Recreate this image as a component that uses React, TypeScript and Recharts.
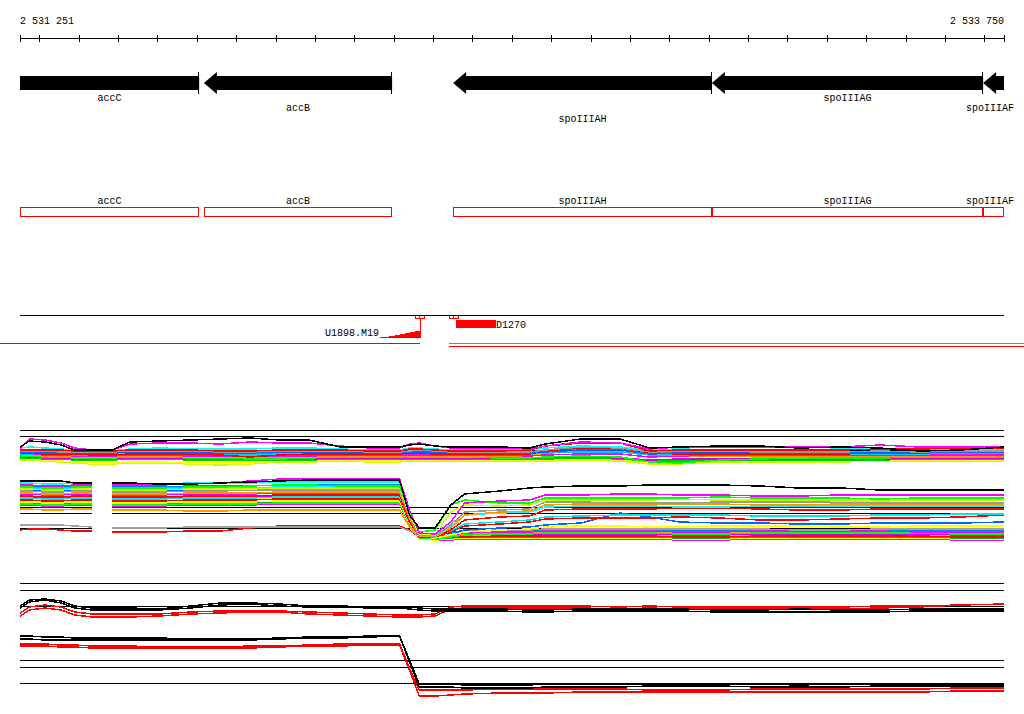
import React from 'react';
import { ComposedChart, Line, Area, XAxis, YAxis, ReferenceLine, ReferenceArea } from 'recharts';

// genome window shown (bp)
const WINDOW: [number, number] = [2531251, 2533750];
const W = 1024;
const PLOT_LEFT = 20;
const PLOT_RIGHT = 1004;
const FONT = '"Liberation Mono", "DejaVu Sans Mono", monospace';
const CHAR_W = 6;

const rulerTicks = [
  2531251, 2531300, 2531400, 2531500, 2531600, 2531700, 2531800, 2531900, 2532000,
  2532100, 2532200, 2532300, 2532400, 2532500, 2532600, 2532700, 2532800, 2532900,
  2533000, 2533100, 2533200, 2533300, 2533400, 2533500, 2533600, 2533700, 2533750,
];

// annotated genes (all on the minus strand)
const geneNames = ['accC', 'accB', 'spoIIIAH', 'spoIIIAG', 'spoIIIAF'];
const geneStarts = [2531100, 2531718, 2532351, 2533008, 2533697];
const geneEnds = [2531706, 2532196, 2533008, 2533697, 2533900];

// transcription units / probes
const tuRamp = [
  { pos: 2532165, h: 1 }, { pos: 2532188, h: 2 }, { pos: 2532203, h: 3 }, { pos: 2532216, h: 4 },
  { pos: 2532229, h: 5 }, { pos: 2532241, h: 6 }, { pos: 2532254, h: 7 }, { pos: 2532267, h: 7 },
];
const tuRampName = 'U1898.M19';
const tuBlockName = 'D1270';
const tuBlock = [2532358, 2532460];
const probeMarkers = [[2532254, 2532265, 2532277], [2532341, 2532351, 2532363]];
const leftUnit = [2531200, 2532267];
const rightUnit = [2532341, 2533801];

// probe positions of the tiling signal
const probePos = [
  2531251, 2531275, 2531315, 2531355, 2531390, 2531435, 2531455, 2531485, 2531530, 2531605,
  2531685, 2531760, 2531835, 2531910, 2531985, 2532065, 2532140, 2532215, 2532240, 2532265,
  2532305, 2532345, 2532380, 2532470, 2532545, 2532585, 2532675, 2532775, 2532850, 2532925,
  2533030, 2533130, 2533230, 2533335, 2533435, 2533535, 2533640, 2533750,
];
const lowerGap = [2531435, 2531485];

// panel 1, upper strand (signal, a.u.)
const upBlack = [98,104,103,100,95,95,95,95,103,104, 105,106,107,105,105,98,98,98,100,101, 99,98,98,98,97,101,106,106,97,98, 99,99,97,98,97,94,95,98];
const upMagenta = [96,106,105,102,97,95,95,95,101,102, 102,101,103,102,102,99,97,97,101,102, 99,97,97,97,96,99,103,102,96,98, 98,98,98,98,100,98,98,98];
const upCyan = [97,98,97,96,95,95,95,94,96,97, 96,96,96,97,97,96,95,95,97,97, 96,95,95,95,95,97,99,98,95,96, 95,95,95,96,96,95,96,96];
const upGray = [94,94,94,93,93,93,93,93,94,94, 94,93,93,94,94,94,93,93,94,95, 94,93,93,93,93,95,98,97,93,94, 94,93,93,93,94,93,94,94];
const upBlue = [93,93,92,92,92,92,92,92,93,93, 92,92,92,93,93,93,92,92,93,93, 93,92,92,92,92,93,95,95,91,92, 93,92,92,92,92,92,93,93];
const upRed = [92,92,91,91,91,90,90,90,91,91, 91,90,88,90,91,91,91,91,92,92, 91,91,91,91,91,94,97,97,92,91, 91,91,91,91,92,92,93,93];
const upMagenta2 = [91,91,90,90,89,89,89,89,90,90, 89,89,89,89,89,90,90,90,90,90, 90,90,90,90,89,90,91,91,88,89, 90,90,90,90,90,90,90,90];
const upOrange = [90,90,89,89,88,88,88,88,89,89, 88,88,88,88,88,89,89,89,89,89, 89,88,88,89,89,92,95,94,90,89, 89,88,88,89,89,89,89,89];
const upLime = [89,89,88,88,87,87,87,87,88,88, 87,87,86,86,87,88,88,88,88,88, 88,88,88,87,87,88,89,88,83,82, 85,86,87,87,87,88,88,88];
const upPurple = [88,88,87,87,86,86,86,86,87,87, 86,86,86,86,86,87,87,87,87,87, 87,87,87,87,87,88,88,87,85,86, 86,86,86,86,86,87,87,87];
const upGreen = [87,87,86,86,85,85,85,85,86,86, 85,85,85,85,85,86,86,86,86,86, 86,86,86,86,86,86,87,86,84,84, 85,85,85,85,85,86,86,86];
const upYellow = [86,86,85,84,83,82,82,82,83,83, 82,82,82,84,84,85,84,84,85,85, 85,85,85,85,85,85,86,85,82,83, 84,84,84,84,84,85,85,85];
const upCyan2 = [90,91,92,91,90,90,90,90,92,92, 91,90,90,91,92,92,91,91,93,93, 92,91,91,91,91,92,93,93,90,90, 91,91,91,91,91,91,92,92];
const upYellowGreen = [85,85,84,83,82,81,81,81,82,82, 81,80,81,83,83,84,83,83,84,84, 84,84,84,84,84,84,85,84,81,81, 83,83,83,83,84,84,84,84];
const upRed2 = [95,95,95,95,94,94,94,94,95,95, 95,94,94,95,95,95,94,94,96,96, 95,94,94,94,95,99,102,102,94,95, 95,95,95,95,96,96,97,97];
const upGray2 = [91,91,91,91,91,91,91,91,92,92, 92,92,92,92,92,92,92,92,92,92, 92,92,92,92,92,93,96,96,92,92, 92,92,92,92,92,92,92,92];

// panel 1, lower strand
const dnBlack = [64,64,64,64,62,62,null,62,62,61, 61,62,63,64,65,65,65,65,30,17, 17,40,51,54,57,58,59,59,60,60, 60,59,57,57,55,55,55,55];
const dnMagenta = [60,60,59,59,60,60,null,60,60,60, 61,62,64,66,66,66,66,66,35,12, 11,23,42,44,45,50,50,51,51,50, 50,49,49,50,50,50,50,50];
const dnLime = [58,58,57,57,58,58,null,57,57,57, 58,58,59,60,60,59,59,59,33,13, 15,40,45,42,42,47,47,47,47,47, 48,47,47,47,46,47,47,47];
const dnYellowGreen = [56,56,55,55,56,56,null,55,55,55, 56,56,56,57,57,57,57,57,31,11, 10,33,40,39,40,45,45,45,45,46, 45,45,45,44,44,45,45,45];
const dnGray = [54,54,53,53,54,54,null,53,53,53, 54,54,55,55,55,55,55,55,29,10, 9,20,33,35,36,43,43,42,42,42, 43,43,43,43,42,42,42,42];
const dnOrange = [52,52,51,51,52,52,null,51,51,51, 52,52,52,53,53,53,53,53,27,9, 8,17,30,33,34,40,41,41,40,41, 41,40,40,41,41,41,41,41];
const dnCyan = [62,62,61,61,62,62,null,61,61,61, 62,62,62,63,63,63,63,63,33,12, 11,18,30,32,33,38,39,39,39,38, 38,39,39,39,39,39,39,39];
const dnRed = [49,49,48,48,49,49,null,48,48,48, 49,49,49,50,50,50,50,50,25,8, 8,15,25,28,29,35,36,36,36,37, 37,36,35,35,36,36,36,36];
const dnCyan2 = [47,47,46,46,47,47,null,46,46,46, 47,47,47,48,48,48,48,48,25,10, 9,14,21,23,25,28,29,30,30,30, 30,29,29,29,30,30,31,31];
const dnRed2 = [45,45,44,44,45,45,null,44,44,44, 45,45,45,46,46,46,46,46,23,9, 8,13,19,21,23,26,27,27,27,28, 27,25,25,26,27,27,28,30];
const dnBlue = [55,55,54,54,55,55,null,54,54,54, 55,55,55,56,56,56,56,56,30,11, 10,12,15,17,18,20,22,32,28,23, 22,22,21,21,22,22,22,23];
const dnYellow = [43,43,42,42,43,43,null,42,42,42, 43,43,43,44,44,44,44,44,22,8, 7,10,13,15,16,18,19,19,18,18, 19,19,19,18,18,19,19,19];
const dnGray2 = [20,20,20,20,19,18,null,17,17,17, 18,18,18,18,18,18,18,18,14,10, 11,13,14,15,15,16,16,16,16,16, 16,16,15,15,16,16,16,16];
const dnMagenta2 = [51,51,50,50,51,51,null,50,50,50, 51,51,51,52,52,52,52,52,27,9, 8,10,12,13,13,14,14,14,14,13, 13,14,14,14,14,13,13,13];
const dnLime2 = [41,41,40,40,41,41,null,40,40,40, 41,41,41,42,42,42,42,42,21,7, 6,8,10,11,11,12,12,12,12,11, 11,12,12,12,12,12,11,11];
const dnBlue2 = [59,59,58,58,59,59,null,58,58,58, 59,59,59,60,60,60,60,60,32,11, 10,12,14,15,15,15,15,15,15,14, 14,15,15,15,15,15,14,14];
const dnOrange2 = [36,36,35,35,36,36,null,35,35,35, 34,34,35,35,35,35,35,35,18,7, 7,9,11,12,12,13,13,13,13,12, 12,13,13,13,13,12,12,12];
const dnPurple = [48,48,47,47,48,48,null,47,47,47, 48,48,48,49,49,49,49,49,24,9, 8,9,10,11,11,11,11,11,11,10, 10,11,11,11,11,11,10,10];
const dnRed3 = [15,16,16,15,14,14,null,13,13,13, 14,14,17,19,19,19,19,19,15,8, 7,8,8,9,9,9,9,9,9,8, 8,9,9,9,9,9,8,8];
const dnCyan3 = [57,57,56,56,57,57,null,56,56,56, 57,57,57,58,58,58,58,58,29,10, 9,10,10,10,10,10,10,10,10,9, 9,10,10,10,10,10,9,9];
const dnGreen = [42,42,41,41,42,42,null,41,41,41, 42,42,42,43,43,43,43,43,21,7, 6,7,8,8,8,8,8,8,8,7, 7,8,8,8,8,8,7,7];
const dnYellow2 = [46,46,45,45,46,46,null,45,45,45, 46,46,46,47,47,47,47,47,24,6, 5,6,7,7,7,7,7,7,7,6, 6,7,7,7,7,7,6,6];
const dnMagenta3 = [40,40,39,39,40,40,null,39,39,39, 40,40,40,41,41,41,41,41,20,6, 5,5,6,6,6,6,6,6,6,5, 5,6,6,6,6,6,5,5];

// panel 2, averaged signal
const avgUpBlackA = [94,100,101,99,94,92,92,92,92,91, 94,97,97,96,94,94,93,93,93,92, 91,91,91,91,90,90,91,91,91,91, 90,90,91,90,90,91,91,91];
const avgUpBlackB = [92,98,100,97,92,90,90,90,90,90, 92,95,96,94,93,93,92,92,91,90, 89,89,89,89,88,88,89,89,89,89, 88,88,88,88,88,89,89,89];
const avgUpRedA = [87,93,95,93,88,86,86,86,86,86, 88,89,89,89,88,87,86,85,85,85, 86,93,94,94,94,94,94,93,94,93, 93,93,93,93,94,94,95,96];
const avgUpRedB = [84,90,92,90,85,83,83,83,83,84, 86,87,88,88,86,85,84,83,83,83, 84,91,92,92,92,92,92,91,92,91, 92,92,91,91,92,93,95,96];
const avgDnBlackA = [64,64,63,63,62,62,62,62,62,62, 61,61,61,62,63,63,64,64,40,16, 16,16,15,15,15,16,16,16,16,16, 16,16,15,16,16,16,16,16];
const avgDnBlackB = [61,61,60,60,60,60,60,60,60,60, 60,60,60,61,62,62,63,64,38,13, 13,13,12,12,12,13,13,13,14,14, 14,13,13,13,14,14,14,14];
const avgDnRedA = [56,56,56,55,55,54,54,54,54,53, 53,53,54,54,55,56,56,56,32,10, 10,10,10,11,11,11,11,11,10,10, 10,11,11,11,11,11,12,12];
const avgDnRedB = [54,54,54,53,53,52,52,52,52,52, 52,52,52,53,54,54,55,55,30,4, 4,5,6,7,7,7,8,8,8,8, 8,8,8,8,8,8,9,9];

// reference levels
const panel1Refs = [115, 109, 95];
const panel1LowerRefs = [38, 32, 17];
const panel2Refs = [117, 110, 94, 40, 33, 17];

type Series = { key: string; color: string; values: (number | null)[] };

const panel1Series: Series[] = [
  { key: 'upGray2', color: '#808080', values: upGray2 },
  { key: 'upYellowGreen', color: '#ccff00', values: upYellowGreen },
  { key: 'upYellow', color: '#ffff00', values: upYellow },
  { key: 'upGreen', color: '#00cc00', values: upGreen },
  { key: 'upPurple', color: '#cc00ff', values: upPurple },
  { key: 'upLime', color: '#00ff00', values: upLime },
  { key: 'upOrange', color: '#ff9900', values: upOrange },
  { key: 'upMagenta2', color: '#ff00ff', values: upMagenta2 },
  { key: 'upCyan2', color: '#00ccff', values: upCyan2 },
  { key: 'upRed', color: '#ff0000', values: upRed },
  { key: 'upBlue', color: '#0066ff', values: upBlue },
  { key: 'upGray', color: '#999999', values: upGray },
  { key: 'upCyan', color: '#00ffff', values: upCyan },
  { key: 'upRed2', color: '#ff0000', values: upRed2 },
  { key: 'upMagenta', color: '#ff00ff', values: upMagenta },
  { key: 'upBlack', color: '#000000', values: upBlack },
  { key: 'dnMagenta3', color: '#ff00ff', values: dnMagenta3 },
  { key: 'dnYellow2', color: '#ffff00', values: dnYellow2 },
  { key: 'dnGreen', color: '#00c000', values: dnGreen },
  { key: 'dnCyan3', color: '#00ffff', values: dnCyan3 },
  { key: 'dnRed3', color: '#ff0000', values: dnRed3 },
  { key: 'dnPurple', color: '#cc00ff', values: dnPurple },
  { key: 'dnOrange2', color: '#ff9900', values: dnOrange2 },
  { key: 'dnBlue2', color: '#0080ff', values: dnBlue2 },
  { key: 'dnLime2', color: '#00ff00', values: dnLime2 },
  { key: 'dnMagenta2', color: '#ff00ff', values: dnMagenta2 },
  { key: 'dnGray2', color: '#a0a0a0', values: dnGray2 },
  { key: 'dnYellow', color: '#ffff00', values: dnYellow },
  { key: 'dnBlue', color: '#0066ff', values: dnBlue },
  { key: 'dnRed2', color: '#ff0000', values: dnRed2 },
  { key: 'dnCyan2', color: '#00e8e8', values: dnCyan2 },
  { key: 'dnRed', color: '#ff0000', values: dnRed },
  { key: 'dnCyan', color: '#00ffff', values: dnCyan },
  { key: 'dnOrange', color: '#ff9900', values: dnOrange },
  { key: 'dnGray', color: '#999999', values: dnGray },
  { key: 'dnYellowGreen', color: '#ccff00', values: dnYellowGreen },
  { key: 'dnLime', color: '#00ff00', values: dnLime },
  { key: 'dnMagenta', color: '#ff00ff', values: dnMagenta },
  { key: 'dnBlack', color: '#000000', values: dnBlack },
];

const panel2Series: Series[] = [
  { key: 'avgUpRedA', color: '#ff0000', values: avgUpRedA },
  { key: 'avgUpRedB', color: '#ff0000', values: avgUpRedB },
  { key: 'avgUpBlackA', color: '#000000', values: avgUpBlackA },
  { key: 'avgUpBlackB', color: '#000000', values: avgUpBlackB },
  { key: 'avgDnRedA', color: '#ff0000', values: avgDnRedA },
  { key: 'avgDnRedB', color: '#ff0000', values: avgDnRedB },
  { key: 'avgDnBlackA', color: '#000000', values: avgDnBlackA },
  { key: 'avgDnBlackB', color: '#000000', values: avgDnBlackB },
];

const toRows = (series: Series[]) =>
  probePos.map((pos, i) => {
    const row: Record<string, number | null> = { pos };
    series.forEach((s) => {
      row[s.key] = s.values[i];
    });
    return row;
  });

const panel1Rows = toRows(panel1Series);
const panel2Rows = toRows(panel2Series);

const formatBp = (v: number) => String(v).replace(/\B(?=(\d{3})+(?!\d))/g, ' ');

const textProps = { fontFamily: FONT, fontSize: 10, fill: '#000' };

// keep a centred label from running past the right edge of the picture
const labelCenter = (l: number, r: number, name: string) =>
  Math.min((l + r) / 2, W - 10 - (name.length * CHAR_W) / 2);

const RulerTick = (props: any) => {
  const { x, y, payload } = props;
  const v = payload.value;
  const first = v === rulerTicks[0];
  const last = v === rulerTicks[rulerTicks.length - 1];
  const xx = Math.round(x) + 0.5;
  return (
    <g>
      <line x1={xx} x2={xx} y1={y - 3} y2={y + 4} stroke="#000" shapeRendering="crispEdges" />
      {(first || last) && (
        <text x={x} y={y - 14} textAnchor={first ? 'start' : 'end'} {...textProps}>
          {formatBp(v)}
        </text>
      )}
    </g>
  );
};

const GeneArrow = (props: any) => {
  const { x, y, width, height, name, lane } = props;
  const l = Math.max(x, PLOT_LEFT);
  const r = Math.min(x + width, PLOT_RIGHT);
  const hasHead = x >= PLOT_LEFT;
  const hasEnd = x + width <= PLOT_RIGHT;
  const top = y;
  const bot = y + height;
  const mid = y + height / 2;
  const bt = top + 4;
  const bb = bot - 4;
  const hx = l + 13;
  const d = hasHead
    ? `M${l},${mid} L${hx},${top} L${hx},${bt} L${r},${bt} L${r},${bb} L${hx},${bb} L${hx},${bot} Z`
    : `M${l},${bt} L${r},${bt} L${r},${bb} L${l},${bb} Z`;
  return (
    <g>
      <path d={d} fill="#000" />
      {hasEnd && <line x1={r - 0.5} x2={r - 0.5} y1={top} y2={bot} stroke="#000" shapeRendering="crispEdges" />}
      <text x={labelCenter(l, r, name)} y={bot + 7 + lane * 10.3} textAnchor="middle" {...textProps}>
        {name}
      </text>
    </g>
  );
};

const CdsBox = (props: any) => {
  const { x, y, width, height, name } = props;
  const l = Math.max(x, PLOT_LEFT);
  const r = Math.min(x + width, PLOT_RIGHT);
  return (
    <g>
      <rect x={l + 0.5} y={y + 0.5} width={r - l - 1} height={height - 1} fill="none" stroke="#ff0000" shapeRendering="crispEdges" />
      <text x={labelCenter(l, r, name)} y={y - 3} textAnchor="middle" {...textProps}>
        {name}
      </text>
    </g>
  );
};

const MarkerBox = (props: any) => {
  const { x, y, width, height } = props;
  return <rect x={x + 0.5} y={y + 0.5} width={width} height={height - 1} fill="#fff" stroke="#ff0000" shapeRendering="crispEdges" />;
};

const BlockWithLabel = (props: any) => {
  const { x, y, width, height, name } = props;
  return (
    <g>
      <rect x={x} y={y} width={width} height={height} fill="#ff0000" shapeRendering="crispEdges" />
      <text x={x + width} y={y + height / 2 + 3.5} {...textProps}>
        {name}
      </text>
    </g>
  );
};

const LeftLabel = (props: any) => {
  const { x, y, height, name } = props;
  return (
    <text x={x - 1} y={y + height - 2} textAnchor="end" {...textProps}>
      {name}
    </text>
  );
};

const hiddenX = (key: string) => (
  <XAxis type="number" dataKey={key} domain={WINDOW} hide allowDataOverflow />
);

const margin = (top: number, bottom: number) => ({ top, bottom, left: PLOT_LEFT, right: W - PLOT_RIGHT });

// track rows for the feature charts; "track" is the (hidden) row a feature sits on
const geneRows = geneNames.map((name, i) => ({ name, pos: geneStarts[i], end: geneEnds[i], track: 0.5 }));

// invisible series so the chart has something to lay its reference marks against
const trackCarrier = (
  <Line dataKey="track" stroke="none" dot={false} activeDot={false} isAnimationActive={false} />
);

const renderLines = (series: Series[]) =>
  series.map((s) => (
    <Line
      key={s.key}
      dataKey={s.key}
      type="linear"
      stroke={s.color}
      strokeWidth={1.5}
      shapeRendering="crispEdges"
      dot={false}
      activeDot={false}
      connectNulls={false}
      isAnimationActive={false}
    />
  ));

const refLine = (y: number, key: string) => (
  <ReferenceLine key={key} y={y} stroke="#000" strokeWidth={1} shapeRendering="crispEdges" ifOverflow="visible" />
);

export default function App() {
  return (
    <div
      style={{
        position: 'absolute',
        left: 0,
        top: 0,
        width: W,
        height: 714,
        background: '#fff',
        overflow: 'hidden',
      }}
    >
      {/* coordinate ruler */}
      <div style={{ position: 'absolute', left: 0, top: 0 }}>
        <ComposedChart width={W} height={60} data={rulerTicks.map((pos) => ({ pos }))} margin={margin(8, 0)}>
          <XAxis
            type="number"
            dataKey="pos"
            orientation="top"
            domain={WINDOW}
            ticks={rulerTicks}
            interval={0}
            height={30}
            tickSize={0}
            tickMargin={0}
            tickLine={false}
            axisLine={{ stroke: '#000', shapeRendering: 'crispEdges' }}
            tick={<RulerTick />}
            allowDataOverflow
          />
          <YAxis hide domain={[0, 1]} />
        </ComposedChart>
      </div>

      {/* gene arrows */}
      <div style={{ position: 'absolute', left: 0, top: 72 }}>
        <ComposedChart width={W} height={60} data={geneRows} margin={margin(0, 38)}>
          {hiddenX('pos')}
          <YAxis hide type="number" domain={[0, 1]} allowDataOverflow />
          {trackCarrier}
          {geneRows.map((g, i) => (
            <ReferenceArea
              key={g.name}
              x1={g.pos}
              x2={g.end}
              y1={0}
              y2={1}
              ifOverflow="visible"
              shape={(p: any) => <GeneArrow {...p} name={g.name} lane={i % 3} />}
            />
          ))}
        </ComposedChart>
      </div>

      {/* CDS boxes */}
      <div style={{ position: 'absolute', left: 0, top: 190 }}>
        <ComposedChart width={W} height={30} data={geneRows} margin={margin(17, 3)}>
          {hiddenX('pos')}
          <YAxis hide type="number" domain={[0, 1]} allowDataOverflow />
          {trackCarrier}
          {geneRows.map((g) => (
            <ReferenceArea
              key={g.name}
              x1={g.pos}
              x2={g.end}
              y1={0}
              y2={1}
              ifOverflow="visible"
              shape={(p: any) => <CdsBox {...p} name={g.name} />}
            />
          ))}
        </ComposedChart>
      </div>

      {/* transcription units */}
      <div style={{ position: 'absolute', left: 0, top: 300 }}>
        <ComposedChart width={W} height={55} data={tuRamp} margin={margin(13, 17)}>
          {hiddenX('pos')}
          <YAxis hide type="number" domain={[0, 25]} allowDataOverflow />
          <ReferenceLine y={23} stroke="#000" shapeRendering="crispEdges" />
          <ReferenceLine
            segment={[{ x: leftUnit[0], y: -5 }, { x: leftUnit[1], y: -5 }]}
            stroke="#ff0000"
            ifOverflow="visible"
            shapeRendering="crispEdges"
          />
          <ReferenceLine
            segment={[{ x: rightUnit[0], y: -5 }, { x: rightUnit[1], y: -5 }]}
            stroke="#00dd00"
            ifOverflow="visible"
            shapeRendering="crispEdges"
          />
          <ReferenceLine
            segment={[{ x: rightUnit[0], y: -8 }, { x: rightUnit[1], y: -8 }]}
            stroke="#ff0000"
            ifOverflow="visible"
            shapeRendering="crispEdges"
          />
          <Area
            dataKey="h"
            type="stepAfter"
            fill="#ff0000"
            fillOpacity={1}
            stroke="none"
            baseValue={0}
            isAnimationActive={false}
            dot={false}
            activeDot={false}
          />
          <ReferenceLine
            segment={[{ x: tuRamp[tuRamp.length - 1].pos, y: 0 }, { x: tuRamp[tuRamp.length - 1].pos, y: 19 }]}
            stroke="#ff0000"
            shapeRendering="crispEdges"
          />
          <ReferenceArea
            x1={tuRamp[0].pos}
            x2={tuRamp[tuRamp.length - 1].pos}
            y1={0}
            y2={8}
            ifOverflow="visible"
            shape={(p: any) => <LeftLabel {...p} name={tuRampName} />}
          />
          {probeMarkers.flatMap((m, i) => [
            <ReferenceArea key={`m${i}a`} x1={m[0]} x2={m[1]} y1={19} y2={23} ifOverflow="visible" shape={(p: any) => <MarkerBox {...p} />} />,
            <ReferenceArea key={`m${i}b`} x1={m[1]} x2={m[2]} y1={19} y2={23} ifOverflow="visible" shape={(p: any) => <MarkerBox {...p} />} />,
          ])}
          <ReferenceArea
            x1={tuBlock[0]}
            x2={tuBlock[1]}
            y1={10}
            y2={18}
            ifOverflow="visible"
            shape={(p: any) => <BlockWithLabel {...p} name={tuBlockName} />}
          />
        </ComposedChart>
      </div>

      {/* panel 1: individual hybridisations */}
      <div style={{ position: 'absolute', left: 0, top: 425 }}>
        <ComposedChart width={W} height={120} data={panel1Rows} margin={margin(0, 0)}>
          {hiddenX('pos')}
          <YAxis hide type="number" domain={[0, 120]} allowDataOverflow />
          {panel1Refs.map((y) => refLine(y, `r${y}`))}
          {panel1LowerRefs.flatMap((y) => [
            <ReferenceLine
              key={`la${y}`}
              segment={[{ x: WINDOW[0], y }, { x: lowerGap[0], y }]}
              stroke="#000"
              shapeRendering="crispEdges"
            />,
            <ReferenceLine
              key={`lb${y}`}
              segment={[{ x: lowerGap[1], y }, { x: WINDOW[1], y }]}
              stroke="#000"
              shapeRendering="crispEdges"
            />,
          ])}
          {renderLines(panel1Series)}
        </ComposedChart>
      </div>

      {/* panel 2: averaged signal */}
      <div style={{ position: 'absolute', left: 0, top: 580 }}>
        <ComposedChart width={W} height={120} data={panel2Rows} margin={margin(0, 0)}>
          {hiddenX('pos')}
          <YAxis hide type="number" domain={[0, 120]} allowDataOverflow />
          {panel2Refs.map((y) => refLine(y, `r${y}`))}
          {renderLines(panel2Series)}
        </ComposedChart>
      </div>
    </div>
  );
}
